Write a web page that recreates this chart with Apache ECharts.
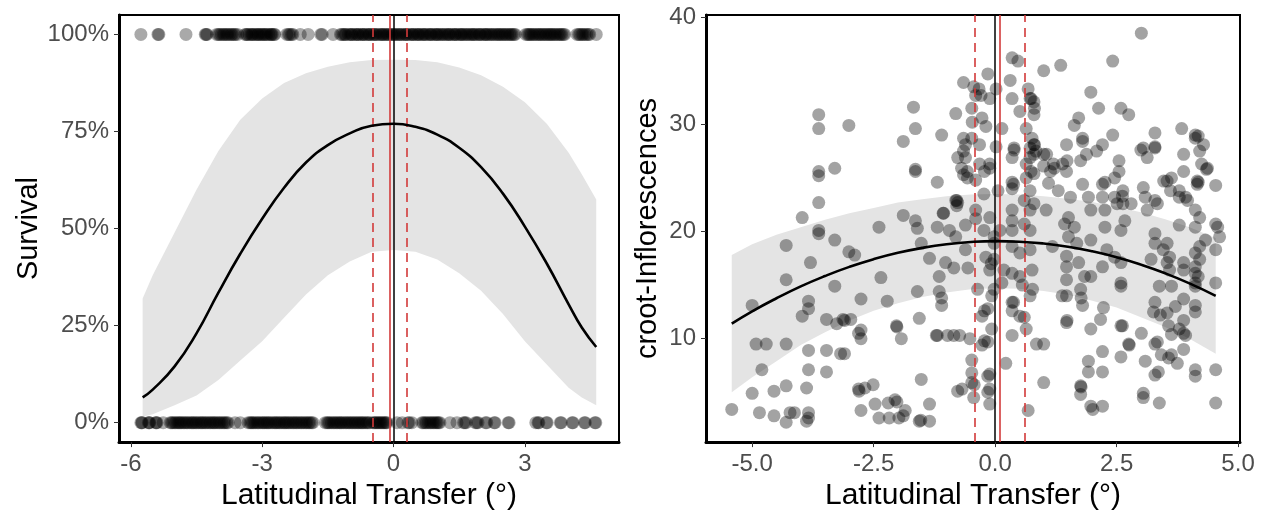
<!DOCTYPE html>
<html>
<head>
<meta charset="utf-8">
<script src="https://cdn.jsdelivr.net/npm/echarts@6/dist/echarts.min.js"></script>
<style>
  html, body { margin: 0; padding: 0; background: #fff; }
  #chart { width: 1261px; height: 516px; }
</style>
</head>
<body>
<div id="chart"></div>
<script>
// ---- left panel: survival (0 / 1) against latitudinal transfer ----
var survivedX = [
  -5.77, -5.38, -5.36, -4.74, -4.3, -4.28, -4.26,
  -4.04, -4.0, -3.97, -3.93, -3.89, -3.86, -3.82, -3.79, -3.75, -3.71, -3.68, -3.64, -3.61, -3.56,
  -3.39, -3.36, -3.34, -3.3, -3.26, -3.23, -3.21, -3.17, -3.13, -3.1, -3.08, -3.04, -3.01,
  -2.98, -2.95, -2.92, -2.89, -2.85, -2.81, -2.79, -2.77, -2.73, -2.71,
  -2.44, -2.4, -2.37, -2.33, -2.3, -2.13, -1.95, -1.66, -1.63, -1.38,
  -1.21, -1.18, -1.14, -1.11, -1.09, -1.03, -0.99, -0.96, -0.94, -0.89, -0.85, -0.82, -0.8,
  -0.75, -0.71, -0.69, -0.66, -0.61, -0.57, -0.55, -0.52, -0.47, -0.44, -0.41,
  -0.38, -0.33, -0.29, -0.26, -0.24, -0.2, -0.16, -0.13, -0.1, -0.05, -0.02, 0.01,
  0.04, 0.08, 0.12, 0.15, 0.18, 0.23, 0.27, 0.29, 0.32, 0.37, 0.41, 0.44,
  0.46, 0.51, 0.55, 0.57, 0.6, 0.65, 0.68, 0.71, 0.74, 0.79, 0.83, 0.85, 0.88, 0.93,
  0.97, 0.99, 1.02, 1.06, 1.1, 1.13, 1.17, 1.21, 1.25, 1.27, 1.3, 1.35,
  1.39, 1.41, 1.44, 1.49, 1.53, 1.55, 1.58, 1.62, 1.66, 1.69, 1.73, 1.77, 1.8, 1.83,
  1.86, 1.9, 1.95, 1.97, 2.0, 2.05, 2.09, 2.11, 2.14, 2.18, 2.22, 2.25,
  2.29, 2.33, 2.37, 2.4, 2.43, 2.47, 2.5, 2.54, 2.57, 2.61, 2.65, 2.68, 2.71, 2.75, 2.78,
  3.02, 3.06, 3.09, 3.12, 3.15, 3.19, 3.22, 3.26, 3.3, 3.33, 3.36, 3.4, 3.43, 3.47,
  3.5, 3.54, 3.57, 3.6, 3.63, 3.67, 3.7, 3.74, 3.78, 3.81, 3.84, 3.88, 3.91,
  4.19, 4.23, 4.26, 4.3, 4.33, 4.37, 4.41, 4.45, 4.48, 4.63
];
var diedX = [
  -5.77, -5.75, -5.74, -5.6, -5.58, -5.57, -5.43, -5.42, -5.4, -5.26,
  -5.1, -5.07, -5.04, -5.0, -4.97, -4.93, -4.9, -4.87, -4.84, -4.8, -4.77, -4.73, -4.7,
  -4.66, -4.62, -4.59, -4.56, -4.52, -4.49, -4.45, -4.41, -4.38, -4.35, -4.31,
  -4.28, -4.24, -4.2, -4.17, -4.13, -4.1, -4.07, -4.03, -3.99, -3.96, -3.92, -3.88,
  -3.85, -3.81, -3.78, -3.62, -3.5,
  -3.32, -3.28, -3.25, -3.22, -3.19, -3.15, -3.11, -3.08, -3.04, -3.0, -2.97, -2.94,
  -2.9, -2.87, -2.84, -2.8, -2.76, -2.72, -2.69, -2.66, -2.62, -2.59,
  -2.55, -2.51, -2.48, -2.45, -2.41, -2.38, -2.34, -2.3, -2.27, -2.23, -2.2, -2.16,
  -2.12, -2.09, -2.05, -2.01, -1.98, -1.94, -1.91, -1.87, -1.84,
  -1.56, -1.52, -1.49, -1.46, -1.42, -1.38, -1.35, -1.31, -1.28, -1.24, -1.21, -1.18,
  -1.14, -1.1, -1.07, -1.03, -1.0, -0.96, -0.93, -0.89, -0.86, -0.82,
  -0.79, -0.75, -0.72, -0.69, -0.65, -0.61, -0.58, -0.54, -0.47, -0.44, -0.41, -0.38,
  -0.35, -0.32, -0.29, -0.26, -0.23, -0.2, -0.17, -0.15,
  0.08, 0.2, 0.33, 0.36, 0.42, 0.65, 0.68, 0.72, 0.75, 0.79, 0.83, 0.86, 0.9, 0.93,
  0.97, 1.0, 1.03, 1.06, 1.29, 1.45,
  1.6, 1.63, 1.66, 1.87, 1.9, 1.93, 2.1, 2.13, 2.3, 2.32, 2.62, 2.64,
  3.25, 3.3, 3.32, 3.49, 3.51, 3.81, 3.83, 4.08, 4.1, 4.36, 4.38, 4.6, 4.62
];
var survFitX = [-5.73, -5.5, -5, -4.5, -4, -3.5, -3, -2.5, -2, -1.5, -1, -0.5, 0,
  0.5, 1, 1.5, 2, 2.5, 3, 3.5, 4, 4.3, 4.63];
var survFit = [0.065, 0.085, 0.145, 0.23, 0.335, 0.435, 0.525, 0.605, 0.67, 0.715, 0.745,
  0.765, 0.77, 0.762, 0.742, 0.708, 0.658, 0.59, 0.505, 0.41, 0.305, 0.245, 0.195];
var survUpper = [0.32, 0.38, 0.49, 0.6, 0.7, 0.78, 0.835, 0.875, 0.9, 0.917, 0.928,
  0.934, 0.935, 0.934, 0.928, 0.915, 0.895, 0.865, 0.825, 0.77, 0.695, 0.64, 0.575];
var survLower = [0.015, 0.022, 0.045, 0.07, 0.11, 0.16, 0.21, 0.27, 0.33, 0.38, 0.415,
  0.44, 0.445, 0.44, 0.42, 0.385, 0.34, 0.28, 0.21, 0.15, 0.09, 0.065, 0.045];
var survXTicks = [-6, -3, 0, 3];
var survYTicks = [0, 0.25, 0.5, 0.75, 1];
var survRefLine = 0;
var survOptimum = -0.09;
var survOptimumCI = [-0.47, 0.31];

// ---- right panel: inflorescences against latitudinal transfer ----
var inflPoints = [
  [-5.42, 3.4], [-5.0, 13.1], [-5.0, 4.9], [-4.92, 9.5], [-4.85, 3.1], [-4.71, 9.5],
  [-4.8, 7.1], [-4.55, 5.1], [-4.55, 2.8], [-4.3, 5.6], [-4.3, 9.5], [-4.3, 15.5],
  [-4.3, 18.7], [-4.22, 3.1], [-4.3, 2.2], [-4.13, 3.1], [-3.97, 21.3], [-3.97, 12.1],
  [-3.88, 5.4], [-3.84, 8.9], [-3.84, 13.5], [-3.84, 12.8], [-3.8, 17.1], [-3.84, 7.1],
  [-3.84, 3.1], [-3.84, 2.6], [-3.88, 2.3], [-3.63, 30.9], [-3.63, 29.6], [-3.63, 25.6],
  [-3.63, 25.2], [-3.63, 22.7], [-3.63, 20.1], [-3.63, 19.8], [-3.47, 11.8], [-3.47, 8.9],
  [-3.47, 6.9], [-3.3, 19.2], [-3.3, 14.9], [-3.3, 25.9], [-3.26, 11.4], [-3.18, 8.6],
  [-3.1, 8.6], [-3.1, 11.7], [-3.01, 29.9], [-3.01, 18.1], [-2.97, 11.8], [-2.89, 17.8],
  [-2.8, 5.1], [-2.76, 10.0], [-2.76, 10.8], [-2.76, 13.7], [-2.76, 3.3], [-2.68, 5.4],
  [-2.51, 5.7], [-2.47, 3.9], [-2.39, 20.4], [-2.35, 15.7], [-2.39, 2.6], [-2.22, 13.5],
  [-2.18, 2.6], [-2.06, 4.3], [-2.02, 11.1], [-2.02, 4.1], [-1.98, 2.6], [-1.93, 10.0],
  [-1.89, 28.4], [-1.89, 21.5], [-1.85, 3.3], [-1.89, 2.8], [-1.68, 31.6], [-1.64, 29.6],
  [-1.64, 25.8], [-1.64, 25.6], [-1.64, 21.0], [-1.6, 14.4], [-1.6, 20.3], [-1.56, 2.3],
  [-1.56, 11.9], [-1.52, 6.2], [-1.52, 18.9], [-1.35, 2.3], [-1.35, 3.9], [-1.35, 17.5],
  [-1.19, 24.6], [-1.19, 20.4], [-1.19, 10.3], [-1.15, 15.8], [-1.15, 14.4], [-1.1, 29.0],
  [-1.1, 13.8], [-1.06, 21.7], [-1.1, 13.1], [-1.02, 17.1], [-0.98, 10.3], [-0.94, 20.1],
  [-0.85, 10.3], [-0.81, 22.9], [-0.81, 31.0], [-0.77, 22.7], [-0.77, 5.1], [-0.85, 16.6],
  [-0.81, 19.5], [-0.77, 26.9], [-0.73, 10.3], [-0.69, 25.9], [-0.65, 33.9], [-0.65, 28.7],
  [-0.65, 25.3], [-0.65, 27.5], [-0.61, 26.9], [-0.61, 20.6], [-0.61, 18.3], [-0.56, 16.6],
  [-0.52, 10.0], [-0.48, 8.0], [-0.48, 6.8], [-0.48, 5.9], [-0.44, 4.5], [-0.48, 28.7],
  [-0.48, 31.5], [-0.44, 33.5], [-0.4, 32.7], [-0.4, 24.8], [-0.4, 22.0], [-0.4, 21.2],
  [-0.36, 14.6], [-0.32, 26.3], [-0.32, 28.1], [-0.27, 30.6], [-0.27, 9.4], [-0.27, 12.1],
  [-0.23, 23.5], [-0.23, 20.1], [-0.19, 17.6], [-0.19, 29.8], [-0.15, 34.7], [-0.15, 9.7],
  [-0.15, 12.8], [-0.15, 6.5], [-0.15, 5.0], [-0.11, 3.9], [-0.11, 6.7], [-0.11, 26.3],
  [-0.11, 16.4], [-0.11, 21.3], [-0.11, 32.4], [-0.07, 10.9], [-0.07, 14.0], [-0.02, 19.5],
  [-0.02, 18.9], [-0.02, 17.4], [-0.02, 14.6], [0.02, 33.3], [0.02, 27.9], [0.06, 23.8],
  [0.1, 20.1], [0.14, 15.2], [0.14, 29.6], [0.18, 16.4], [0.22, 7.7], [0.31, 34.1],
  [0.35, 36.2], [0.35, 32.4], [0.35, 26.9], [0.35, 24.6], [0.35, 24.0], [0.35, 22.0],
  [0.35, 21.0], [0.35, 20.1], [0.35, 18.6], [0.35, 13.4], [0.35, 12.6], [0.35, 10.3],
  [0.35, 16.1], [0.39, 27.8], [0.39, 27.6], [0.47, 35.9], [0.51, 31.2], [0.51, 18.0],
  [0.51, 15.8], [0.51, 12.1], [0.56, 15.0], [0.6, 22.9], [0.6, 20.7], [0.64, 29.6],
  [0.64, 26.3], [0.64, 25.0], [0.64, 10.9], [0.68, 3.3], [0.68, 33.3], [0.72, 32.4],
  [0.72, 27.8], [0.72, 26.9], [0.72, 23.8], [0.72, 22.0], [0.72, 20.1], [0.72, 18.3],
  [0.72, 14.0], [0.76, 28.7], [0.76, 16.4], [0.8, 32.1], [0.8, 30.9], [0.8, 28.1],
  [0.8, 27.2], [0.8, 25.4], [0.8, 22.6], [0.85, 9.5], [1.0, 9.5], [1.0, 5.9],
  [1.0, 27.2], [1.0, 26.1], [1.0, 35.0], [1.05, 22.0], [1.1, 24.5], [1.14, 25.6],
  [1.18, 18.6], [1.22, 25.9], [1.3, 23.8], [1.35, 35.5], [1.39, 26.3], [1.43, 20.7],
  [1.47, 28.1], [1.47, 25.6], [1.47, 17.7], [1.47, 16.7], [1.47, 14.0], [1.47, 11.5],
  [1.47, 15.5], [1.51, 19.5], [1.51, 21.3], [1.55, 23.2], [1.63, 29.9], [1.63, 20.4],
  [1.68, 18.9], [1.72, 30.6], [1.72, 17.1], [1.76, 14.6], [1.76, 26.6], [1.76, 5.6],
  [1.76, 4.8], [1.8, 24.4], [1.8, 28.7], [1.8, 13.1], [1.84, 15.8], [1.88, 27.2],
  [1.92, 23.2], [1.92, 7.9], [1.92, 6.9], [1.97, 33.0], [1.97, 22.0], [1.97, 19.2],
  [1.97, 15.8], [1.97, 10.9], [1.97, 3.7], [2.01, 3.4], [2.09, 27.5], [2.13, 31.5],
  [2.17, 11.8], [2.21, 28.1], [2.21, 24.4], [2.21, 23.2], [2.21, 16.7], [2.21, 8.8],
  [2.21, 6.9], [2.21, 3.7], [2.26, 20.4], [2.26, 22.0], [2.3, 18.3], [2.42, 29.0],
  [2.42, 35.9], [2.46, 23.2], [2.46, 25.0], [2.46, 17.6], [2.51, 22.6], [2.55, 26.6],
  [2.59, 31.5], [2.59, 20.1], [2.59, 17.1], [2.59, 15.2], [2.59, 14.9], [2.59, 11.2],
  [2.59, 8.3], [2.63, 23.8], [2.63, 22.6], [2.67, 21.0], [2.75, 30.9], [2.75, 9.5],
  [2.8, 22.6], [3.01, 38.5], [3.01, 10.5], [3.05, 4.9], [3.05, 4.5], [3.05, 24.1],
  [3.05, 27.8], [3.09, 7.9], [3.09, 23.2], [3.13, 26.9], [3.13, 22.0], [3.21, 17.4],
  [3.29, 29.2], [3.29, 27.9], [3.29, 27.8], [3.29, 22.9], [3.29, 19.8], [3.29, 18.9],
  [3.29, 13.4], [3.29, 9.5], [3.29, 6.6], [3.34, 22.6], [3.34, 9.7], [3.38, 14.9],
  [3.38, 4.0], [3.42, 8.5], [3.46, 18.3], [3.54, 18.9], [3.54, 24.7], [3.54, 12.4],
  [3.54, 17.1], [3.59, 17.6], [3.59, 16.4], [3.63, 25.0], [3.63, 14.9], [3.63, 10.4],
  [3.63, 8.5], [3.71, 13.0], [3.75, 7.7], [3.79, 23.8], [3.79, 23.2], [3.79, 20.6],
  [3.79, 10.9], [3.84, 29.6], [3.88, 27.2], [3.88, 25.6], [3.88, 17.1], [3.88, 16.4],
  [3.88, 13.7], [3.88, 11.7], [3.88, 10.5], [3.88, 9.0], [3.92, 23.2], [3.92, 10.3],
  [3.96, 22.9], [4.12, 29.0], [4.12, 28.7], [4.12, 22.0], [4.12, 20.4], [4.12, 18.0],
  [4.12, 16.7], [4.12, 16.1], [4.12, 15.2], [4.12, 14.9], [4.12, 13.1], [4.12, 12.5],
  [4.12, 7.1], [4.12, 6.5], [4.16, 24.7], [4.16, 24.4], [4.21, 27.5], [4.21, 21.3],
  [4.21, 17.4], [4.21, 18.6], [4.25, 26.3], [4.29, 28.1], [4.33, 19.2], [4.37, 25.9],
  [4.54, 24.3], [4.54, 20.7], [4.54, 18.3], [4.54, 15.2], [4.54, 7.1], [4.54, 4.0],
  [4.58, 20.4], [4.62, 19.5],
  [-0.33, 33.3], [-0.29, 32.7], [-0.47, 30.2], [-0.57, 25.6], [-0.57, 25.0], [-0.79, 22.9],
  [-0.79, 22.4], [-1.07, 21.7], [-0.61, 28.1], [-0.22, 25.6], [-0.11, 25.9], [0.38, 24.4],
  [0.74, 32.4], [0.81, 31.5], [0.81, 28.1], [0.84, 27.5], [0.74, 25.6], [1.06, 27.2],
  [1.2, 26.3], [1.48, 26.6], [1.8, 28.4], [2.26, 24.6], [2.55, 25.6], [2.62, 23.3],
  [3.0, 27.6], [3.47, 24.7], [3.61, 23.8], [4.18, 28.9], [4.18, 24.6], [4.35, 25.8],
  [-3.13, 11.8], [-2.81, 10.5], [-2.03, 11.2], [-1.21, 10.3], [-0.22, 9.8], [-0.08, 17.0],
  [-0.22, 12.6], [0.38, 13.4], [0.6, 12.0], [0.77, 14.6], [1.38, 14.0], [1.48, 11.7],
  [1.77, 13.8], [2.23, 12.9], [2.62, 11.2], [2.76, 9.4], [3.26, 12.5], [3.4, 12.2],
  [3.57, 11.2], [4.18, 15.8], [3.36, 6.9], [3.57, 8.2], [1.77, 5.5], [-0.11, 5.3],
  [-0.43, 5.7], [-0.68, 5.3], [-1.53, 2.4], [-2.2, 4.0], [-2.81, 5.3]
];
var inflFitX = [-5.42, -5, -4.5, -4, -3.5, -3, -2.5, -2, -1.5, -1, -0.5, 0, 0.5, 1,
  1.5, 2, 2.5, 3, 3.5, 4, 4.54];
var inflFit = [11.4, 12.55, 13.77, 14.88, 15.85, 16.7, 17.42, 18.01, 18.47, 18.81, 19.02,
  19.1, 19.05, 18.88, 18.58, 18.15, 17.6, 16.91, 16.1, 15.16, 14.0];
var inflUpper = [17.8, 18.8, 19.7, 20.4, 21.1, 21.7, 22.2, 22.7, 23.0, 23.3, 23.45,
  23.5, 23.45, 23.3, 23.05, 22.75, 22.3, 21.8, 21.15, 20.4, 19.4];
var inflLower = [5.0, 6.4, 7.9, 9.4, 10.6, 11.7, 12.6, 13.3, 13.9, 14.3, 14.6,
  14.7, 14.65, 14.45, 14.1, 13.55, 12.9, 12.0, 11.1, 10.0, 8.6];
var inflXTicks = [-5, -2.5, 0, 2.5, 5];
var inflYTicks = [10, 20, 30, 40];
var inflRefLine = 0;
var inflOptimum = 0.09;
var inflOptimumCI = [-0.42, 0.61];

var FONT = "Liberation Sans, Arial, Helvetica, sans-serif";
var RED = "#d23a3a";

// ribbon drawn as one polygon through the axis scales
function ribbon(xs, lo, hi, idx) {
  return {
    type: "custom",
    xAxisIndex: idx,
    yAxisIndex: idx,
    silent: true,
    z: 1,
    data: [0],
    renderItem: function (params, api) {
      var pts = [];
      for (var i = 0; i < xs.length; i++) pts.push(api.coord([xs[i], hi[i]]));
      for (var j = xs.length - 1; j >= 0; j--) pts.push(api.coord([xs[j], lo[j]]));
      return { type: "polygon", shape: { points: pts }, style: { fill: "#e4e4e4" } };
    }
  };
}

function fitLine(xs, ys, idx, ref, opt, ci) {
  var dashed = { color: RED, width: 1.6, type: [9, 6] };
  return {
    type: "line",
    xAxisIndex: idx,
    yAxisIndex: idx,
    data: xs.map(function (x, i) { return [x, ys[i]]; }),
    smooth: true,
    symbol: "none",
    silent: true,
    z: 5,
    lineStyle: { color: "#000", width: 2.6 },
    markLine: {
      silent: true,
      symbol: "none",
      animation: false,
      label: { show: false },
      data: [
        { xAxis: ref, lineStyle: { color: "#000", width: 1.5, type: "solid" } },
        { xAxis: opt, lineStyle: { color: RED, width: 1.6, type: "solid" } },
        { xAxis: ci[0], lineStyle: dashed },
        { xAxis: ci[1], lineStyle: dashed }
      ]
    }
  };
}

function xAxisOf(idx, min, max, ticks, fmt) {
  return {
    type: "value", gridIndex: idx, min: min, max: max,
    name: "Latitudinal Transfer (°)", nameLocation: "middle", nameGap: 31,
    nameTextStyle: { fontFamily: FONT, fontSize: 30, color: "#000" },
    axisLine: { show: true, onZero: false, lineStyle: { color: "#000", width: 3 } },
    axisTick: { show: true, customValues: ticks, length: 5, lineStyle: { color: "#333", width: 1 } },
    axisLabel: { customValues: ticks, formatter: fmt, margin: 10,
      fontFamily: FONT, fontSize: 24, color: "#4d4d4d" },
    splitLine: { show: false }
  };
}

function yAxisOf(idx, min, max, ticks, fmt, name, gap) {
  return {
    type: "value", gridIndex: idx, min: min, max: max,
    name: name, nameLocation: "middle", nameGap: gap,
    nameTextStyle: { fontFamily: FONT, fontSize: 29, color: "#000" },
    axisLine: { show: true, onZero: false, lineStyle: { color: "#000", width: 3 } },
    axisTick: { show: true, customValues: ticks, length: 5, lineStyle: { color: "#333", width: 1 } },
    axisLabel: { customValues: ticks, formatter: fmt, margin: 10,
      fontFamily: FONT, fontSize: 24, color: "#4d4d4d" },
    splitLine: { show: false }
  };
}

var chart = echarts.init(document.getElementById("chart"), null, { renderer: "canvas" });

chart.setOption({
  animation: false,
  backgroundColor: "#fff",
  grid: [
    { left: 119, top: 15, width: 500, height: 432, show: true, borderColor: "#000", borderWidth: 2 },
    { left: 706, top: 15, width: 534, height: 432, show: true, borderColor: "#000", borderWidth: 2 }
  ],
  xAxis: [
    xAxisOf(0, -6.27, 5.15, survXTicks, function (v) { return String(v); }),
    xAxisOf(1, -5.95, 5.04, inflXTicks, function (v) { return v.toFixed(1); })
  ],
  yAxis: [
    yAxisOf(0, -0.05, 1.05, survYTicks, function (v) { return Math.round(v * 100) + "%"; }, "Survival", 76),
    yAxisOf(1, 0.35, 40.2, inflYTicks, function (v) { return String(v); }, "croot-Inflorescences", 44)
  ],
  series: [
    ribbon(survFitX, survLower, survUpper, 0),
    {
      type: "scatter", xAxisIndex: 0, yAxisIndex: 0, z: 2, silent: true,
      symbolSize: 13, itemStyle: { color: "rgba(0,0,0,0.42)" },
      data: survivedX.map(function (x) { return [x, 1]; })
        .concat(diedX.map(function (x) { return [x, 0]; }))
    },
    fitLine(survFitX, survFit, 0, survRefLine, survOptimum, survOptimumCI),

    ribbon(inflFitX, inflLower, inflUpper, 1),
    {
      type: "scatter", xAxisIndex: 1, yAxisIndex: 1, z: 2, silent: true,
      symbolSize: 13, itemStyle: { color: "rgba(0,0,0,0.45)" },
      data: inflPoints
    },
    fitLine(inflFitX, inflFit, 1, inflRefLine, inflOptimum, inflOptimumCI)
  ]
});
</script>
</body>
</html>
